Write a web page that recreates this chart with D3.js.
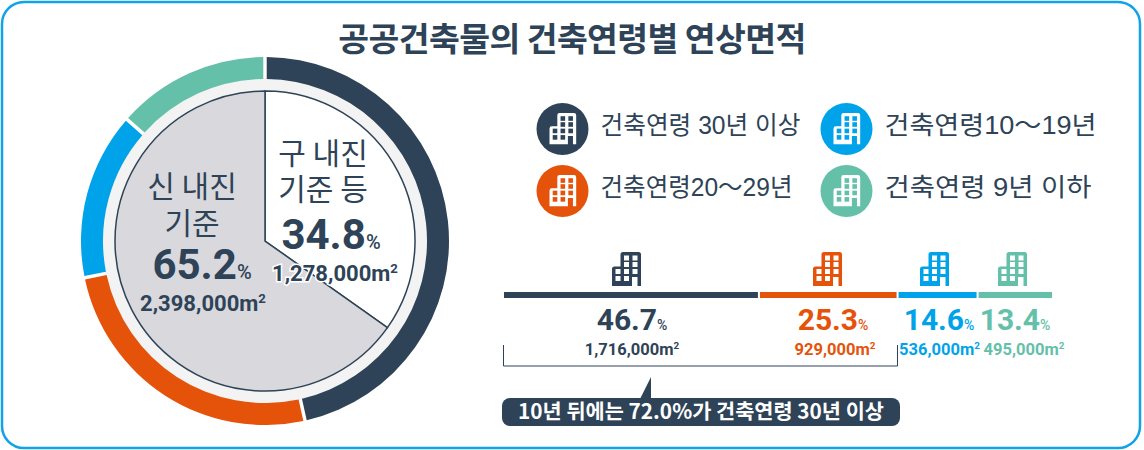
<!DOCTYPE html>
<meta charset="utf-8">
<style>
html, body { margin: 0; padding: 0; background: #fff; }
svg { display: block; }
text { font-family: "Liberation Sans", "Noto Sans CJK KR", sans-serif; fill: #2e4357; }
.title { font-family: "Noto Sans CJK KR"; font-size: 33.5px; font-weight: 700; text-anchor: middle; letter-spacing: -0.6px; }
.legend { font-size: 25px; }
.num { font-family: Roboto, "Noto Sans CJK KR"; font-weight: 700; }
.pie-label { font-family: "Noto Sans CJK KR"; font-size: 30px; font-weight: 400; text-anchor: middle; }
.note { font-family: "Noto Sans CJK KR"; font-size: 20.8px; font-weight: 700; fill: #fff; text-anchor: middle; }
</style>
<body>
<script src="https://d3js.org/d3.v7.min.js"></script>
<script>
// data
var titleText = "공공건축물의 건축연령별 연상면적";
var ageLabels = ["건축연령 30년 이상", "건축연령20〜29년", "건축연령10〜19년", "건축연령 9년 이하"];
var agePct = [46.7, 25.3, 14.6, 13.4];
var ageArea = ["1,716,000", "929,000", "536,000", "495,000"];
var ageColors = ["#2e4357", "#e5530b", "#00a3e9", "#65c0aa"];
var quakeLabels = [["구 내진", "기준 등"], ["신 내진", "기준"]];
var quakePct = [34.8, 65.2];
var quakeArea = ["1,278,000", "2,398,000"];
var noteText = "10년 뒤에는 72.0%가 건축연령 30년 이상";

var width = 1144, height = 450;
var cx = 265, cy = 241;

var svg = d3.select("body").append("svg")
    .attr("width", width)
    .attr("height", height);

// frame
svg.append("rect")
    .attr("x", 2).attr("y", 2)
    .attr("width", 1138).attr("height", 446)
    .attr("rx", 22)
    .attr("fill", "#fff")
    .attr("stroke", "#11a3e6")
    .attr("stroke-width", 2.5);

svg.append("text")
    .attr("class", "title")
    .attr("x", 572).attr("y", 51)
    .text(titleText);

// soft ring between the donut and the pie
var grad = svg.append("defs").append("radialGradient")
    .attr("id", "gap")
    .attr("gradientUnits", "userSpaceOnUse")
    .attr("cx", cx).attr("cy", cy).attr("r", 163);
grad.append("stop").attr("offset", 0.92).attr("stop-color", "#d6d6d8");
grad.append("stop").attr("offset", 0.95).attr("stop-color", "#eeeeee");
grad.append("stop").attr("offset", 1).attr("stop-color", "#f3f3f3");

var chart = svg.append("g").attr("transform", "translate(" + cx + "," + cy + ")");

chart.append("circle").attr("r", 163).attr("fill", "url(#gap)");

var pie = d3.pie().sort(null);
var ringArc = d3.arc().innerRadius(162).outerRadius(184);
var pieArc = d3.arc().innerRadius(0).outerRadius(150);

chart.selectAll(".ring")
    .data(pie.padAngle(0.014)(agePct))
    .enter().append("path")
    .attr("class", "ring")
    .attr("d", ringArc)
    .attr("fill", function(d, i) { return ageColors[i]; });

chart.selectAll(".slice")
    .data(pie.padAngle(0)(quakePct))
    .enter().append("path")
    .attr("class", "slice")
    .attr("d", pieArc)
    .attr("fill", function(d, i) { return i == 0 ? "#fff" : "#d9d8dd"; })
    .attr("stroke", "#2e4357")
    .attr("stroke-width", 1.5);

// number + small unit, with squared metre helper
function pctText(sel, x, y, value, size, unitSize, color) {
    var t = sel.append("text")
        .attr("class", "num")
        .attr("x", x).attr("y", y)
        .attr("text-anchor", "middle")
        .style("fill", color);
    t.append("tspan").attr("font-size", size).text(value.toFixed(1));
    t.append("tspan").attr("font-size", unitSize).attr("font-weight", 500).text("%");
    return t;
}

function areaText(sel, x, y, value, size, color) {
    var t = sel.append("text")
        .attr("class", "num")
        .attr("x", x).attr("y", y)
        .attr("text-anchor", "middle")
        .attr("font-size", size)
        .style("fill", color);
    t.append("tspan").text(value + "m");
    t.append("tspan").attr("font-size", size * 0.6).attr("dy", -size * 0.38).text("2");
    return t;
}

// pie texts
var labelPos = [[323, 164, 200], [192, 197, 234]];
quakeLabels.forEach(function(lines, i) {
    lines.forEach(function(line, j) {
        svg.append("text")
            .attr("class", "pie-label")
            .attr("x", labelPos[i][0])
            .attr("y", labelPos[i][j + 1])
            .text(line);
    });
});
pctText(svg, 331, 249, quakePct[0], 42, 20, "#2e4357");
pctText(svg, 202, 279, quakePct[1], 42, 20, "#2e4357");
areaText(svg, 335, 281, quakeArea[0], 22, "#2e4357")
    .style("stroke", "#fff")
    .style("stroke-width", 3)
    .style("paint-order", "stroke");
areaText(svg, 203, 311, quakeArea[1], 22, "#2e4357");

// building icon, box is 29 x 34
var windows = [
    [12, 3.5], [20.5, 3.5],
    [12, 10], [20.5, 10],
    [3.5, 17], [12, 17], [20.5, 17],
    [3.5, 24], [12, 24]
];
function building(sel, x, y, k, color, hole) {
    var g = sel.append("g").attr("transform", "translate(" + x + "," + y + ") scale(" + k + ")");
    g.append("path")
        .attr("d", "M0 34V17Q0 14.5 2.5 14.5H8.5V2.5Q8.5 0 11 0H26.5Q29 0 29 2.5V34H25.5V25H20V34Z")
        .attr("fill", color);
    g.selectAll("rect")
        .data(windows)
        .enter().append("rect")
        .attr("x", function(d) { return d[0]; })
        .attr("y", function(d) { return d[1]; })
        .attr("width", 5)
        .attr("height", 5)
        .attr("fill", hole);
}

// legend, the right column is stretched wider in the original
var legendOrder = [0, 2, 1, 3];
var legendWidth = [200, 212, 192, 207];
legendOrder.forEach(function(a, i) {
    var lx = i % 2 == 0 ? 562.5 : 846.5;
    var ly = i < 2 ? 129 : 191;
    svg.append("circle")
        .attr("cx", lx).attr("cy", ly).attr("r", 26)
        .attr("fill", ageColors[a]);
    building(svg, lx - 13, ly - 16, 0.92, "#fff", ageColors[a]);
    svg.append("text")
        .attr("class", "legend")
        .attr("x", lx + 38)
        .attr("y", ly + 5)
        .attr("textLength", legendWidth[i])
        .attr("lengthAdjust", "spacingAndGlyphs")
        .text(ageLabels[a]);
});

// stacked bar
var x = d3.scaleLinear().domain([0, 100]).range([504, 1052]);
var stacked = d3.cumsum(agePct);
var iconX = [612, 813, 920, 998];
var pctX = [632, 833, 939, 1015];
var areaX = [632, 835, 939.5, 1024];
agePct.forEach(function(v, i) {
    var x0 = x(stacked[i] - v), x1 = x(stacked[i]);
    svg.append("rect")
        .attr("x", x0)
        .attr("y", 292)
        .attr("width", x1 - x0 - (i < 3 ? 2 : 0))
        .attr("height", 6)
        .attr("fill", ageColors[i]);
    building(svg, iconX[i], 252, 1, ageColors[i], "#fff");
    pctText(svg, pctX[i], 330, v, 30, 14, ageColors[i]);
    areaText(svg, areaX[i], 355, ageArea[i], 16.5, ageColors[i]);
});

// bracket and callout
svg.append("path")
    .attr("d", "M503.5 345V366H897.5V345")
    .attr("fill", "none")
    .attr("stroke", "#2e4357")
    .attr("stroke-width", 1);

svg.append("path")
    .attr("d", "M640 399L651 377V399Z")
    .attr("fill", "#2e4357");
svg.append("rect")
    .attr("x", 502).attr("y", 398)
    .attr("width", 398).attr("height", 28)
    .attr("rx", 8)
    .attr("fill", "#2e4357");
svg.append("text")
    .attr("class", "note")
    .attr("x", 701).attr("y", 419)
    .text(noteText);
</script>
</body>
